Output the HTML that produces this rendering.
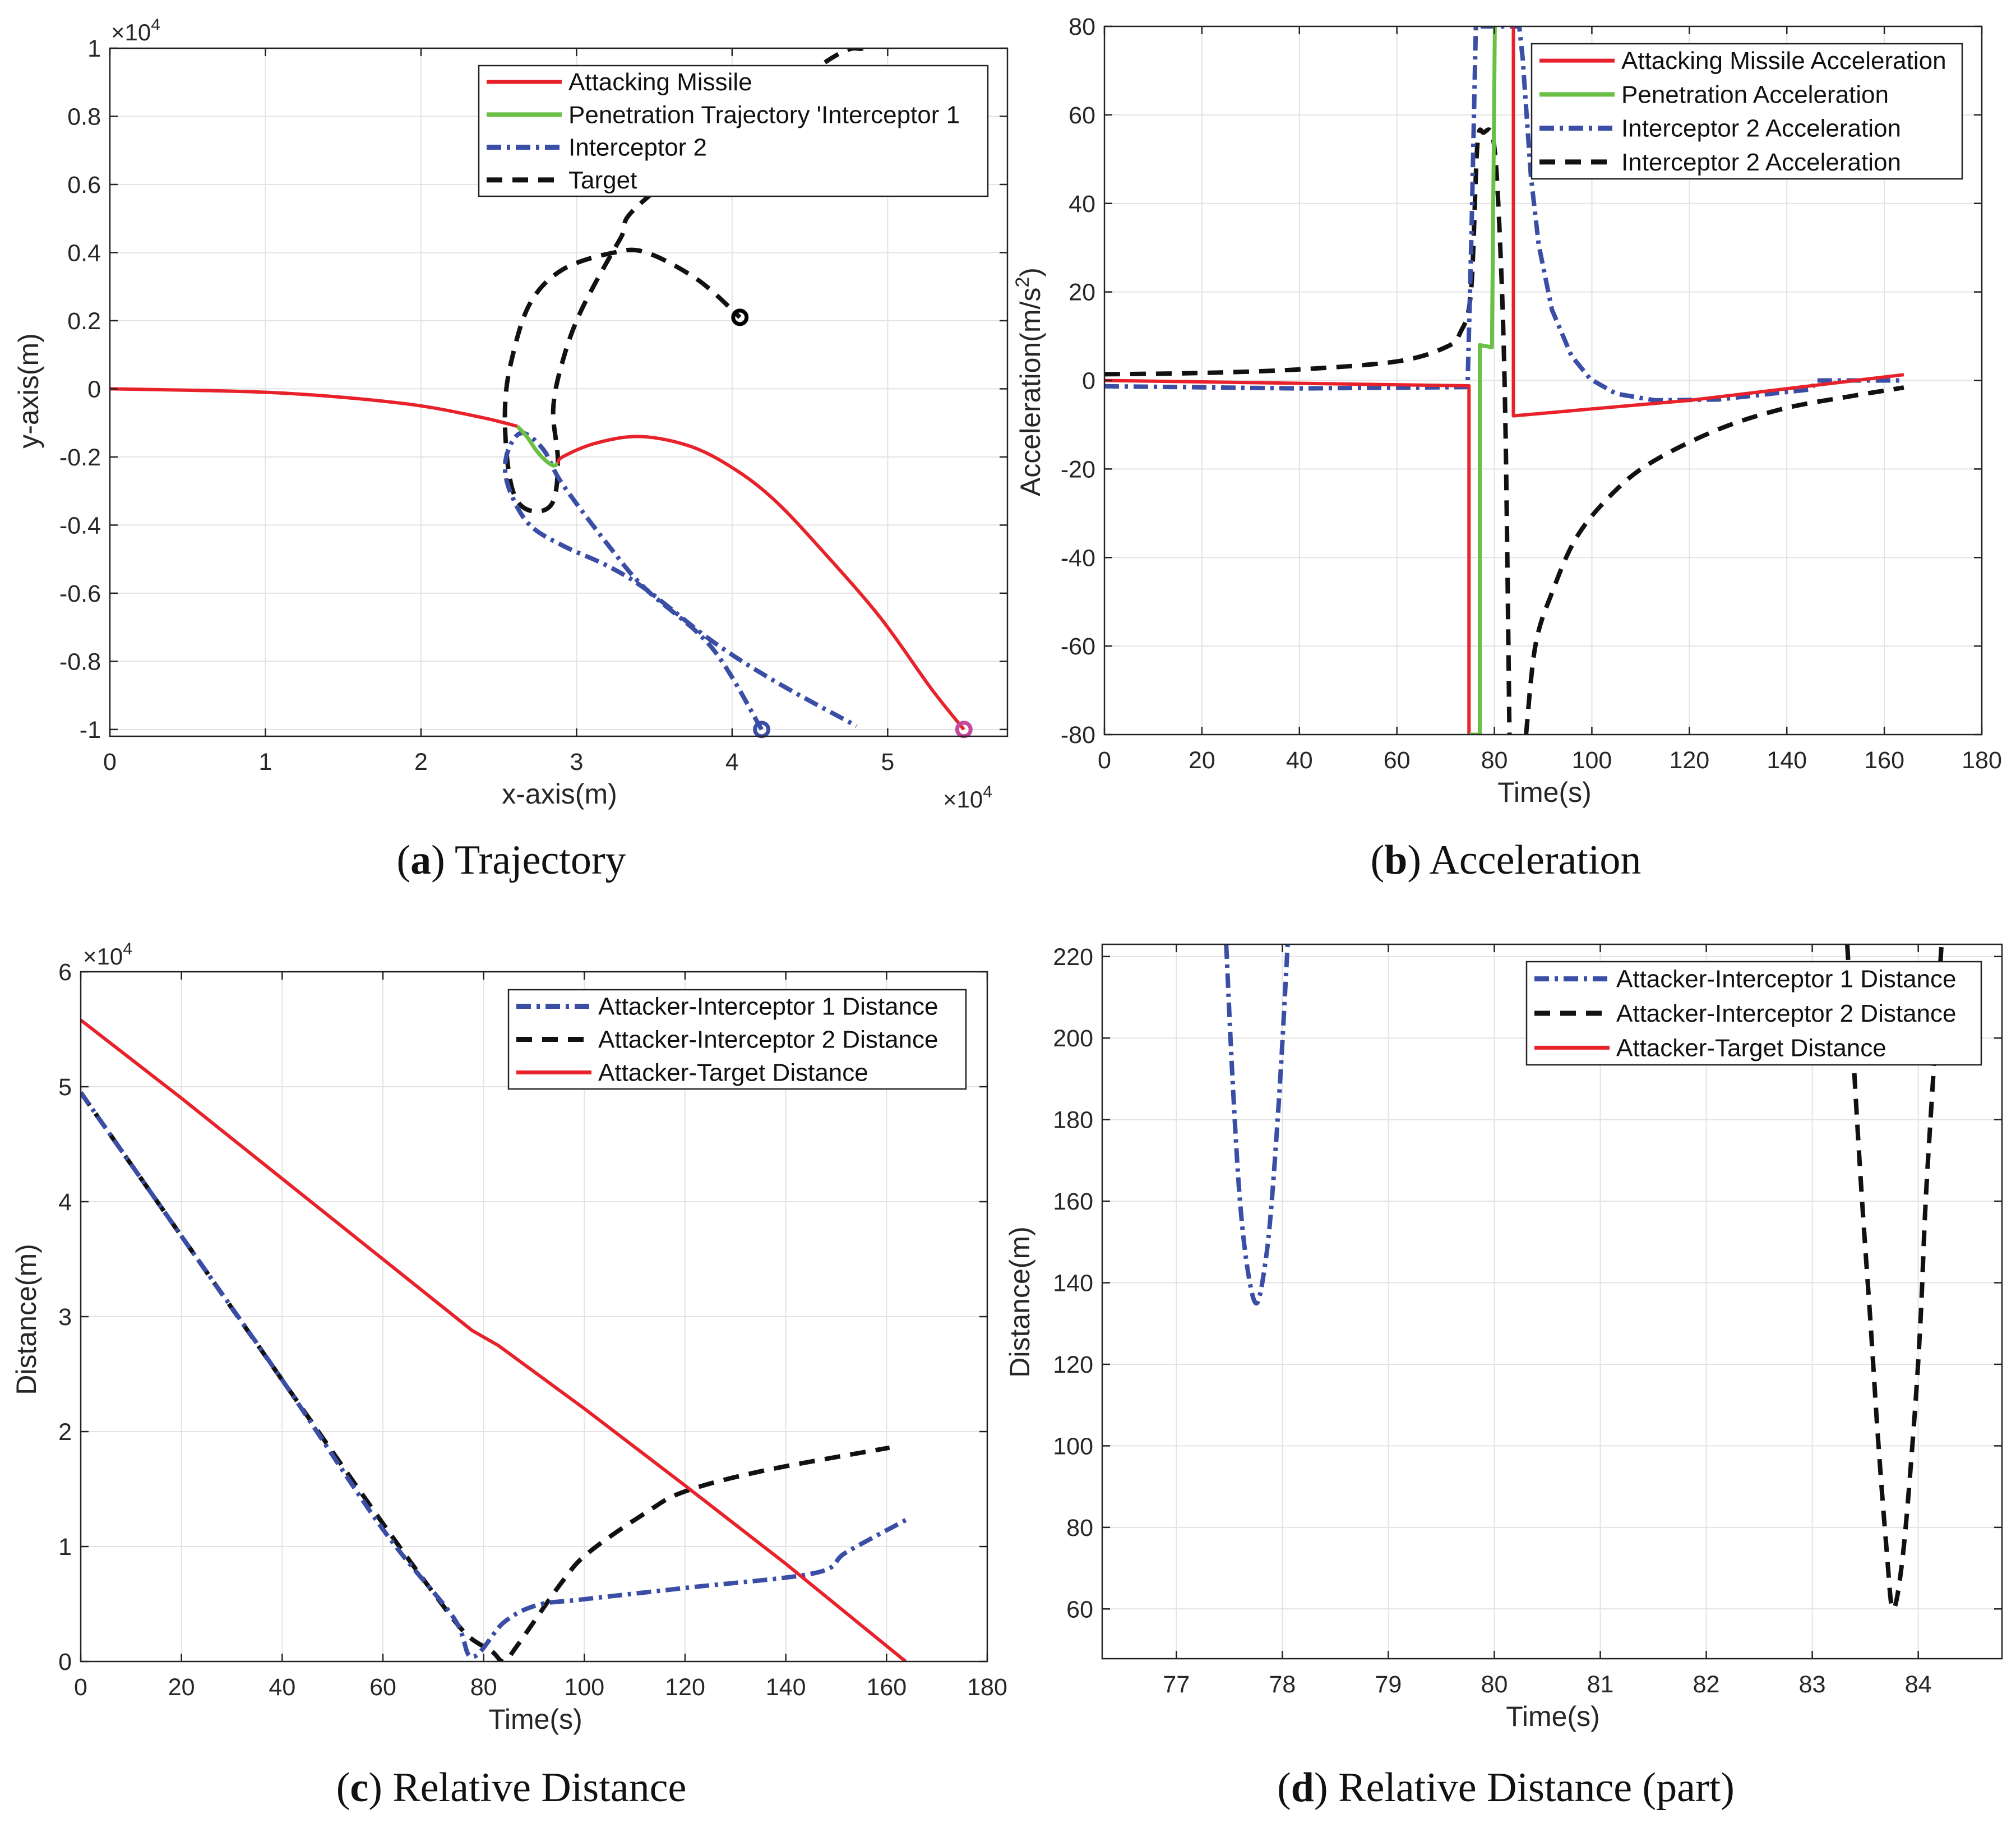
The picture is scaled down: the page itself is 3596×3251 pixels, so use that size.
<!DOCTYPE html>
<html><head><meta charset="utf-8"><style>
html,body{margin:0;padding:0;background:#fff;}
svg{display:block;font-family:"Liberation Sans",sans-serif;}
</style></head><body>
<svg id="fig" width="3596" height="3251" viewBox="0 0 3596 3251" xmlns="http://www.w3.org/2000/svg"></svg>
<script>
// ---------- Panel A data (units of 1e4 m) ----------
const aMissileX1=[0,0.5,1,1.5,2,2.4,2.62];
const aMissileY1=[0,-0.004,-0.01,-0.025,-0.05,-0.085,-0.11];
const aGreenX=[2.62,2.68,2.74,2.8,2.85,2.88];
const aGreenY=[-0.11,-0.14,-0.18,-0.21,-0.225,-0.22];
const aMissileX2=[2.88,2.91,3.12,3.41,3.74,4.03,4.28,4.57,4.95,5.28,5.49];
const aMissileY2=[-0.22,-0.2,-0.16,-0.14,-0.17,-0.24,-0.33,-0.47,-0.67,-0.88,-1.0];
const aInt2X=[4.19,3.87,3.45,3.24,2.91,2.79,2.66,2.58,2.54,2.58,2.7,2.91,3.2,3.45,3.87,4.28,4.8];
const aInt2Y=[-1.0,-0.76,-0.59,-0.48,-0.28,-0.18,-0.13,-0.16,-0.23,-0.31,-0.4,-0.46,-0.52,-0.59,-0.74,-0.86,-0.99];
const aTargetX=[4.84,4.57,3.45,3.28,3.03,2.91,2.85,2.88,2.85,2.74,2.62,2.56,2.54,2.58,2.7,2.91,3.24,3.45,3.78,4.05];
const aTargetY=[1.0,0.95,0.56,0.44,0.23,0.08,-0.06,-0.21,-0.33,-0.36,-0.33,-0.23,-0.06,0.08,0.25,0.35,0.4,0.4,0.32,0.21];
const aXTicks=[0,1,2,3,4,5];
const aYTicks=[-1,-0.8,-0.6,-0.4,-0.2,0,0.2,0.4,0.6,0.8,1];
// ---------- Panel B data ----------
const bRedT1=[0,74.8,74.8];
const bRedA1=[0,-1.2,-80];
const bRedT2=[83.9,83.9,120,164];
const bRedA2=[80,-8,-4.5,1.3];
const bGreenT=[74.8,77,77,79.5,80.1,80.1];
const bGreenA=[-80,-80,8,7.5,80,80];
const bBlueT=[0,40,74.5,75.3,76.2,85.1,85.8,87.5,89.1,91.8,95.8,99.7,105,113,126,145,146,164];
const bBlueA=[-1.3,-1.8,-1.5,33,80,80,72.8,46,30.6,16,5.6,0.3,-3,-4.5,-4.3,-2,0,0];
const bBlackT1=[0,20,40,60,70,73,75.2,76.5,77.8,79.8,81.1,82.2,83.1];
const bBlackA1=[1.4,1.7,2.5,4.3,7.5,10.8,20,53,56,54.3,33,-6,-80];
const bBlackT2=[86.5,88.4,91.8,97.1,105,113,126.3,139.6,152.9,164];
const bBlackA2=[-80,-60,-48,-35,-24.7,-18,-10.9,-6.3,-3.6,-1.6];
const bXTicks=[0,20,40,60,80,100,120,140,160,180];
const bYTicks=[-80,-60,-40,-20,0,20,40,60,80];
// ---------- Panel C data (units of 1e4 m) ----------
const cRedT=[0,20,40,60,77.7,82.9,100,120,140,163.8];
const cRedD=[5.58,4.9,4.2,3.5,2.88,2.75,2.2,1.53,0.85,0];
const cBlueT=[0,20,40,60,73.9,77.7,84,90.6,99.6,120,145.8,152,163.8];
const cBlueD=[4.95,3.7,2.45,1.15,0.39,0.04,0.34,0.49,0.54,0.64,0.77,0.95,1.23];
const cBlackT=[0,20,40,60,70,76.5,81.6,84,86.7,95.7,100.9,112.4,120,135.6,160.6];
const cBlackD=[4.95,3.7,2.45,1.2,0.6,0.24,0.09,0,0.14,0.7,0.95,1.3,1.48,1.66,1.86];
const cXTicks=[0,20,40,60,80,100,120,140,160,180];
const cYTicks=[0,1,2,3,4,5,6];
// ---------- Panel D data ----------
const dBlueT=[77.47,77.53,77.6,77.68,77.76,77.84,77.9,77.98,78.05];
const dBlueD=[223,190,160,142,135,145,160,190,223];
const dBlackT=[83.33,83.4,83.47,83.55,83.62,83.7,83.76,83.85,83.95,84.02,84.07,84.14,84.22];
const dBlackD=[223,190,160,130,102,75,60,72,102,130,160,190,223];
const dXTicks=[77,78,79,80,81,82,83,84];
const dYTicks=[60,80,100,120,140,160,180,200,220];

const NS='http://www.w3.org/2000/svg';
const svg=document.getElementById('fig');
function mk(tag,attrs,parent){const e=document.createElementNS(NS,tag);for(const k in attrs)e.setAttribute(k,attrs[k]);(parent||svg).appendChild(e);return e;}
const RED='#e8222b',GREEN='#6abf45',BLUE='#3b4ea6',BLACK='#111';
const STY={
 red:{stroke:RED,w:6,dash:''},
 green:{stroke:GREEN,w:7,dash:''},
 blue:{stroke:BLUE,w:8,dash:'26 10 6 10'},
 black:{stroke:BLACK,w:8,dash:'28 18'}
};
function fmt(v){return String(Math.round(v*100)/100);}
function pathD(px,py,smooth){
 if(!smooth) return px.map((x,i)=>(i?'L':'M')+x.toFixed(1)+','+py[i].toFixed(1)).join(' ');
 let d='M'+px[0].toFixed(1)+','+py[0].toFixed(1);
 for(let i=0;i<px.length-1;i++){
  const i0=Math.max(0,i-1),i3=Math.min(px.length-1,i+2);
  const c1x=px[i]+(px[i+1]-px[i0])/6,c1y=py[i]+(py[i+1]-py[i0])/6;
  const c2x=px[i+1]-(px[i3]-px[i])/6,c2y=py[i+1]-(py[i3]-py[i])/6;
  d+=' C'+c1x.toFixed(1)+','+c1y.toFixed(1)+' '+c2x.toFixed(1)+','+c2y.toFixed(1)+' '+px[i+1].toFixed(1)+','+py[i+1].toFixed(1);
 }
 return d;
}

function panel(cfg){
 const g=mk('g',{});
 
 
 const {L,R,T,B,xmin,xmax,ymin,ymax}=cfg;
 const sx=v=>L+(v-xmin)/(xmax-xmin)*(R-L);
 const sy=v=>B-(v-ymin)/(ymax-ymin)*(B-T);
 const clipId='clip-'+cfg.name;
 const cp=mk('clipPath',{id:clipId},g);
 mk('rect',{x:L,y:T,width:R-L,height:B-T},cp);
 const grid=mk('g',{},g);
 
 
 cfg.xt.forEach(v=>{const x=sx(v);if(x>L+1&&x<R-1)mk('line',{x1:x,x2:x,y1:T,y2:B,stroke:'#e3e3e3','stroke-width':2},grid);});
 cfg.yt.forEach(v=>{const y=sy(v);if(y>T+1&&y<B-1)mk('line',{x1:L,x2:R,y1:y,y2:y,stroke:'#e3e3e3','stroke-width':2},grid);});
 const ser=mk('g',{'clip-path':'url(#'+clipId+')'},g);
 cfg.series.forEach(s=>{
  const st=STY[s.style];
  const d=pathD(s.x.map(sx),s.y.map(sy),s.smooth);
  const p=mk('path',{d:d,fill:'none',stroke:st.stroke,'stroke-width':st.w,'stroke-dasharray':st.dash,'stroke-linejoin':'round'},ser);
  
  
 });
 (cfg.markers||[]).forEach(m=>{
  const c=mk('circle',{cx:sx(m.x),cy:sy(m.y),r:12,fill:'none',stroke:m.c,'stroke-width':7},g);
  
  
 });
 const box=mk('rect',{x:L,y:T,width:R-L,height:B-T,fill:'none',stroke:'#222','stroke-width':2.5},g);
 
 
 const xl=mk('g',{'font-size':43,fill:'#262626','text-anchor':'middle'},g);
 
 
 cfg.xt.forEach(v=>{const x=sx(v);
  mk('line',{x1:x,x2:x,y1:B,y2:B-14,stroke:'#222','stroke-width':2.5},g);
  mk('line',{x1:x,x2:x,y1:T,y2:T+14,stroke:'#222','stroke-width':2.5},g);
  const t=mk('text',{x:x,y:B+60},xl);t.textContent=fmt(v);});
 const yl=mk('g',{'font-size':43,fill:'#262626','text-anchor':'end'},g);
 
 
 cfg.yt.forEach(v=>{const y=sy(v);
  mk('line',{x1:L,x2:L+14,y1:y,y2:y,stroke:'#222','stroke-width':2.5},g);
  mk('line',{x1:R,x2:R-14,y1:y,y2:y,stroke:'#222','stroke-width':2.5},g);
  const t=mk('text',{x:L-16,y:y+15},yl);t.textContent=fmt(v);});
 const xt=mk('text',{x:cfg.xlx,y:B+120,'font-size':50,fill:'#262626','text-anchor':'middle'},g);
 xt.textContent=cfg.xlabel;
 
 
 const yt=mk('text',{x:0,y:0,'font-size':50,fill:'#262626','text-anchor':'middle',transform:'translate('+cfg.ylx+','+cfg.yly+') rotate(-90)'},g);
 yt.innerHTML=cfg.ylabel;
 
 
 const lg=mk('g',{},g);
 
 
 const Lg=cfg.legend;
 mk('rect',{x:Lg.x1,y:Lg.y1,width:Lg.x2-Lg.x1,height:Lg.y2-Lg.y1,fill:'#fff',stroke:'#222','stroke-width':2.5},lg);
 const rowH=(Lg.y2-Lg.y1)/Lg.items.length;
 Lg.items.forEach((it,i)=>{
  const yc=Lg.y1+rowH*(i+0.5);const st=STY[it.style];
  const e=mk('g',{},lg);
  
  
  mk('line',{x1:Lg.x1+14,x2:Lg.x1+148,y1:yc,y2:yc,stroke:st.stroke,'stroke-width':st.w+1,'stroke-dasharray':st.dash},e);
  const t=mk('text',{x:Lg.x1+160,y:yc+15,'font-size':44,fill:'#111'},e);t.textContent=it.label;
 });
 return {sx,sy,g};
}

panel({name:'trajectory-chart',L:196,R:1797,T:86,B:1313,xmin:0,xmax:5.77,ymin:-1.02,ymax:1,
 xt:aXTicks,yt:aYTicks,xlabel:'x-axis(m)',xlx:998,ylabel:'y-axis(m)',ylx:68,yly:697,
 series:[
  {name:'target-line',style:'black',x:aTargetX,y:aTargetY,smooth:true},
  {name:'interceptor-2-line',style:'blue',x:aInt2X,y:aInt2Y,smooth:true},
  {name:'attacking-missile-line',style:'red',x:aMissileX1,y:aMissileY1,smooth:true},
  {name:'attacking-missile-line-2',style:'red',x:aMissileX2,y:aMissileY2,smooth:true},
  {name:'penetration-line',style:'green',x:aGreenX,y:aGreenY,smooth:true}],
 markers:[{name:'target-marker',x:4.05,y:0.21,c:'#000'},{name:'interceptor-end-marker',x:4.19,y:-1.0,c:BLUE},{name:'missile-end-marker',x:5.49,y:-1.0,c:'#c3479b'}],
 legend:{x1:854,y1:117,x2:1762,y2:350,items:[
  {style:'red',label:'Attacking Missile'},{style:'green',label:"Penetration Trajectory 'Interceptor 1"},
  {style:'blue',label:'Interceptor 2'},{style:'black',label:'Target'}]}
});
panel({name:'acceleration-chart',L:1970,R:3535,T:47,B:1310,xmin:0,xmax:180,ymin:-80,ymax:80,
 xt:bXTicks,yt:bYTicks,xlabel:'Time(s)',xlx:2755,ylabel:'Acceleration(m/s<tspan dy="-20" font-size="34">2</tspan><tspan dy="20">)</tspan>',ylx:1855,yly:681,
 series:[
  {name:'interceptor-2-accel-black',style:'black',x:bBlackT1,y:bBlackA1,smooth:true},
  {name:'interceptor-2-accel-black-2',style:'black',x:bBlackT2,y:bBlackA2,smooth:true},
  {name:'interceptor-2-accel-blue',style:'blue',x:bBlueT,y:bBlueA},
  {name:'attacking-missile-accel',style:'red',x:bRedT1,y:bRedA1},
  {name:'attacking-missile-accel-2',style:'red',x:bRedT2,y:bRedA2},
  {name:'penetration-accel',style:'green',x:bGreenT,y:bGreenA}],
 legend:{x1:2732,y1:78,x2:3500,y2:319,items:[
  {style:'red',label:'Attacking Missile Acceleration'},{style:'green',label:'Penetration Acceleration'},
  {style:'blue',label:'Interceptor 2 Acceleration'},{style:'black',label:'Interceptor 2 Acceleration'}]}
});
panel({name:'relative-distance-chart',L:144,R:1761,T:1733,B:2963,xmin:0,xmax:180,ymin:0,ymax:6,
 xt:cXTicks,yt:cYTicks,xlabel:'Time(s)',xlx:955,ylabel:'Distance(m)',ylx:64,yly:2353,
 series:[
  {name:'attacker-interceptor-2-distance',style:'black',x:cBlackT,y:cBlackD,smooth:true},
  {name:'attacker-interceptor-1-distance',style:'blue',x:cBlueT,y:cBlueD,smooth:true},
  {name:'attacker-target-distance',style:'red',x:cRedT,y:cRedD}],
 legend:{x1:907,y1:1765,x2:1723,y2:1942,items:[
  {style:'blue',label:'Attacker-Interceptor 1 Distance'},{style:'black',label:'Attacker-Interceptor 2 Distance'},
  {style:'red',label:'Attacker-Target Distance'}]}
});
panel({name:'relative-distance-part-chart',L:1966,R:3571,T:1684,B:2958,xmin:76.3,xmax:84.79,ymin:47.8,ymax:223,
 xt:dXTicks,yt:dYTicks,xlabel:'Time(s)',xlx:2770,ylabel:'Distance(m)',ylx:1836,yly:2322,
 series:[
  {name:'attacker-interceptor-1-distance',style:'blue',x:dBlueT,y:dBlueD,smooth:true},
  {name:'attacker-interceptor-2-distance',style:'black',x:dBlackT,y:dBlackD,smooth:true}],
 legend:{x1:2723,y1:1715,x2:3534,y2:1899,items:[
  {style:'blue',label:'Attacker-Interceptor 1 Distance'},{style:'black',label:'Attacker-Interceptor 2 Distance'},
  {style:'red',label:'Attacker-Target Distance'}]}
});
function expo(x,y,name){const t=mk('text',{x:x,y:y,'font-size':42,fill:'#262626'});t.innerHTML='×10<tspan dy="-18" font-size="30">4</tspan>';
 
 }
expo(198,72,'y-exponent-label');
expo(1682,1440,'x-exponent-label');
expo(148,1720,'distance-exponent-label');
function cap(x,y,b,rest,name){const t=mk('text',{x:x,y:y,'font-size':74,fill:'#111','text-anchor':'middle','font-family':'Liberation Serif, serif'});
 t.innerHTML='(<tspan font-weight="bold">'+b+'</tspan>) '+rest;
 
 }
cap(912,1558,'a','Trajectory','caption-a');
cap(2686,1558,'b','Acceleration','caption-b');
cap(912,3212,'c','Relative Distance','caption-c');
cap(2686,3212,'d','Relative Distance (part)','caption-d');
</script>
</body></html>
